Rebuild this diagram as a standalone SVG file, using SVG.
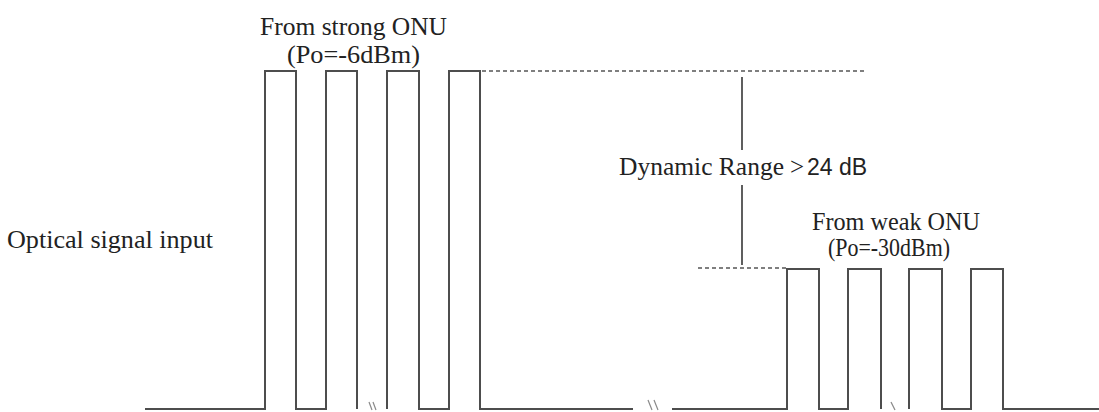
<svg xmlns="http://www.w3.org/2000/svg" width="1099" height="412" viewBox="0 0 1099 412">
  <style>
    .wave { fill: none; stroke: #4d4d4d; stroke-width: 2; stroke-linejoin: miter; }
    .dot { fill: none; stroke: #555; stroke-width: 1.6; stroke-dasharray: 4 3; }
    .solid { fill: none; stroke: #4d4d4d; stroke-width: 1.8; }
    .brk { fill: none; stroke: #8a8a8a; stroke-width: 1.2; }
    .lbl { font-family: "Liberation Serif", "Times New Roman", serif; font-size: 25px; fill: #222222; }
    .sans { font-family: "Liberation Sans", Arial, sans-serif; }
  </style>
  <rect width="1099" height="412" fill="#ffffff"/>

  <g id="strong-onu-pulses">
    <path class="wave" d="M145,409 H265 V71 H296 V409 H326 V71 H357 V409"/>
    <path class="wave" d="M387,409 V71 H419 V409 H449 V71 H480 V409 H633"/>
  </g>

  <g id="weak-onu-pulses">
    <path class="wave" d="M672,409 H787 V269 H819 V409 H848 V269 H881 V409"/>
    <path class="wave" d="M909,409 V269 H942 V409 H971 V269 H1003 V409 H1099"/>
  </g>

  <g id="breaks">
    <path class="brk" d="M369,402 L372,410 M373,402 L376,410"/>
    <path class="brk" d="M648,400 L652,410 M654,400 L658,410"/>
    <path class="brk" d="M891,402 L895,410"/>
  </g>

  <g id="connectors">
    <path class="dot" d="M482,71 H864"/>
    <path class="dot" d="M698,268 H786"/>
    <path class="solid" d="M742,77 V150"/>
    <path class="solid" d="M742,185 V265"/>
  </g>

  <g id="label-input">
    <text class="lbl" x="7" y="248" textLength="206" lengthAdjust="spacingAndGlyphs">Optical signal input</text>
  </g>

  <g id="label-strong">
    <text class="lbl" x="260" y="35" textLength="187" lengthAdjust="spacingAndGlyphs">From strong ONU</text>
    <text class="lbl" x="287" y="63" textLength="133" lengthAdjust="spacingAndGlyphs">(Po=-6dBm)</text>
  </g>

  <g id="label-weak">
    <text class="lbl" x="812" y="230" textLength="168" lengthAdjust="spacingAndGlyphs">From weak ONU</text>
    <text class="lbl" x="828" y="256" textLength="122" lengthAdjust="spacingAndGlyphs">(Po=-30dBm)</text>
  </g>

  <g id="label-range">
    <text class="lbl" x="619" y="175"><tspan textLength="165" lengthAdjust="spacingAndGlyphs">Dynamic Range</tspan><tspan x="790">&gt;</tspan><tspan class="sans" x="807" font-size="23">24 dB</tspan></text>
  </g>
</svg>
